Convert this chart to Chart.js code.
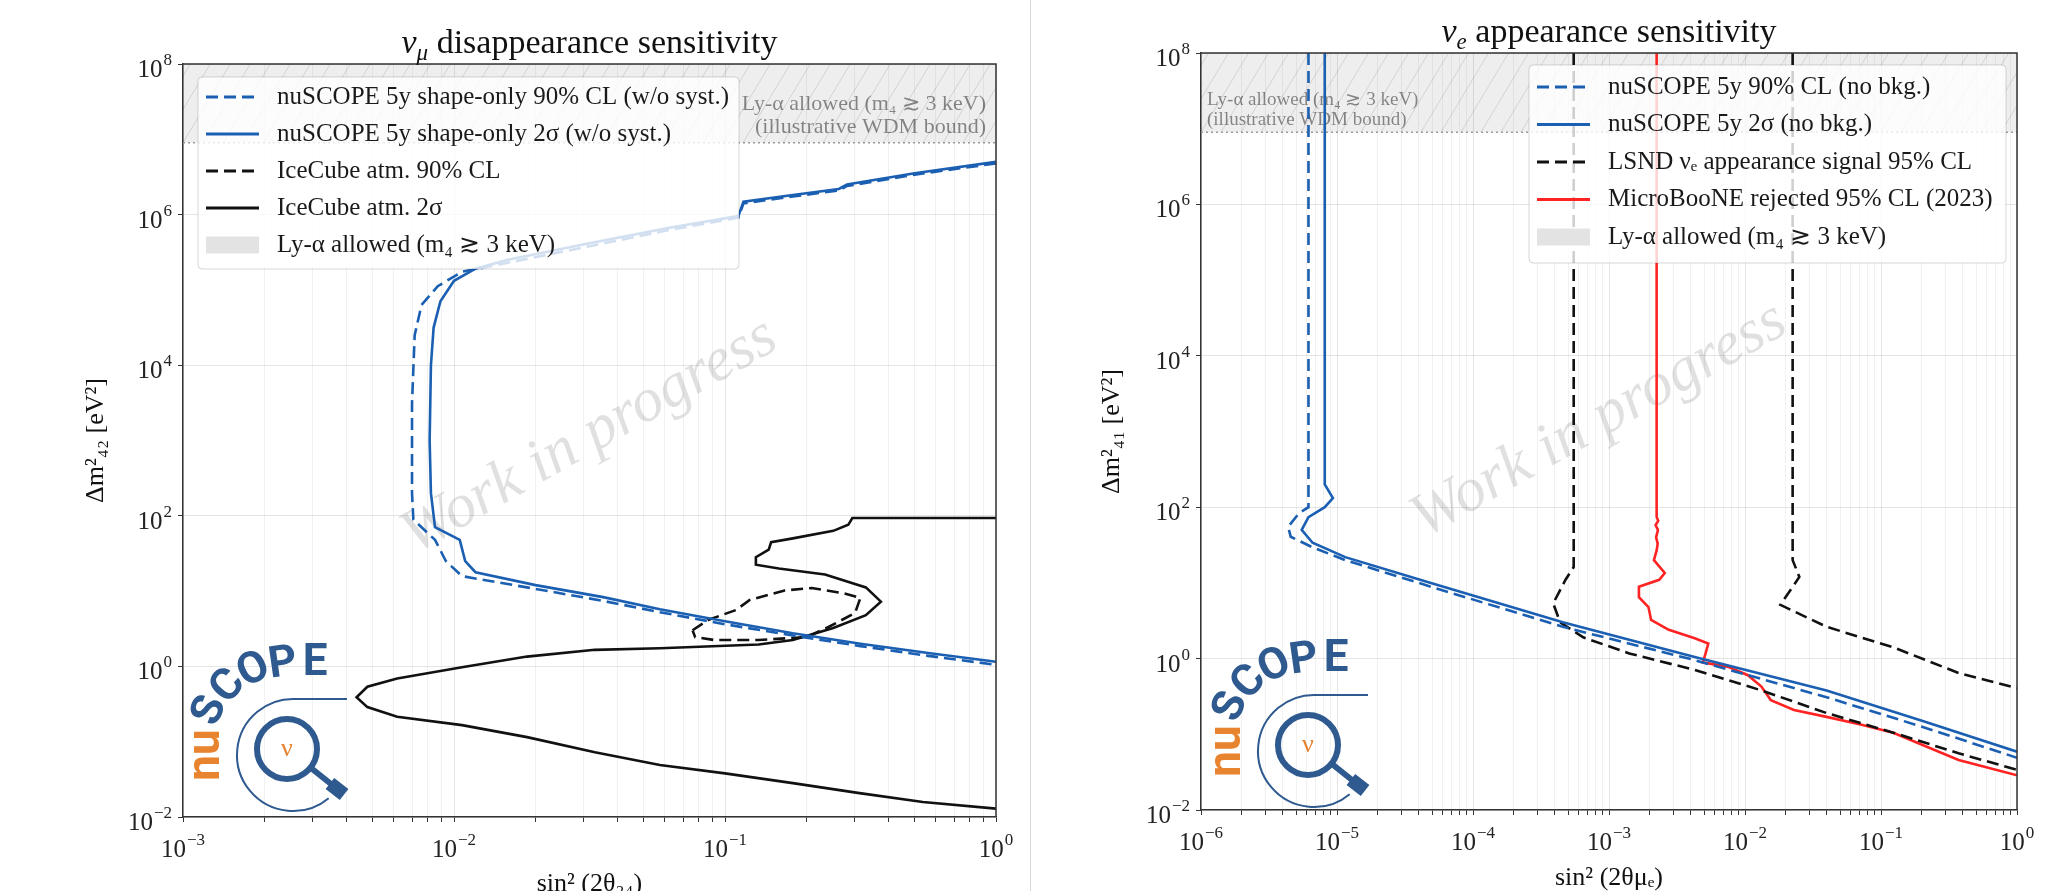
<!DOCTYPE html>
<html>
<head>
<meta charset="utf-8">
<script src="https://cdn.jsdelivr.net/npm/chart.js@4.4.1/dist/chart.umd.min.js"></script>
<style>
html, body { margin: 0; padding: 0; background: #fff; overflow: hidden; }
#wrap { position: relative; width: 2070px; height: 891px; overflow: hidden; background: #fff; }
#wrap canvas { position: absolute; top: 0; }
#left { left: 0; }
#right { left: 1035px; }
#divider { position: absolute; left: 1030px; top: 0; width: 1px; height: 891px; background: #d6d6d6; }
</style>
</head>
<body>
<div id="wrap">
  <canvas id="left" width="1035" height="930"></canvas>
  <canvas id="right" width="1035" height="930"></canvas>
  <div id="divider"></div>
</div>
<script>
const SERIF = '"Liberation Serif", "DejaVu Serif", serif';
const BLUE = '#1b5fb2', BLACK = '#111111', RED = '#ff2323';
const LY_ALPHA_MIN = 9e6; // (3 keV)^2 in eV^2

// tick positions / labels (labels are 10^exp)
const yTickVals = [1e-2, 1, 1e2, 1e4, 1e6, 1e8];
const yTickExps = ['−2', '0', '2', '4', '6', '8'];
const muXDecades = [1e-3, 1e-2, 1e-1, 1];
const muXExps = ['−3', '−2', '−1', '0'];
const eXDecades = [1e-6, 1e-5, 1e-4, 1e-3, 1e-2, 1e-1, 1];
const eXExps = ['−6', '−5', '−4', '−3', '−2', '−1', '0'];

// ---- nu_mu disappearance ----
const muNu2sX = [1.0, 0.501, 0.282, 0.263, 0.178, 0.117, 0.112, 0.0631, 0.0316, 0.0158, 0.0120, 0.0100, 0.00891, 0.00841, 0.00822, 0.00813, 0.00822, 0.00851, 0.0105, 0.0110, 0.0120, 0.0200, 0.0355, 0.0575, 0.100, 0.178, 0.316, 0.562, 1.0];
const muNu2sY = [5.01e6, 3.55e6, 2.51e6, 2.19e6, 1.82e6, 1.48e6, 9.55e5, 6.76e5, 4.17e5, 2.51e5, 1.91e5, 1.32e5, 7.08e4, 3.16e4, 1.0e4, 1.0e3, 200, 70.8, 47.9, 25.1, 17.8, 12.0, 8.32, 5.75, 3.98, 2.75, 2.0, 1.51, 1.15];
const muNu90X = [1.0, 0.501, 0.282, 0.263, 0.178, 0.117, 0.112, 0.0631, 0.0316, 0.0158, 0.0107, 0.00871, 0.00759, 0.00716, 0.00700, 0.00700, 0.00708, 0.00851, 0.00933, 0.0107, 0.0200, 0.0355, 0.0575, 0.100, 0.178, 0.316, 0.562, 1.0];
const muNu90Y = [4.79e6, 3.39e6, 2.40e6, 2.09e6, 1.74e6, 1.41e6, 9.12e5, 6.31e5, 3.80e5, 2.29e5, 1.74e5, 1.12e5, 6.31e4, 2.51e4, 3.16e3, 200, 89.1, 47.9, 25.1, 15.8, 10.7, 7.41, 5.25, 3.63, 2.57, 1.86, 1.38, 1.05];
const ice2sX = [1.0, 0.295, 0.285, 0.251, 0.178, 0.148, 0.145, 0.130, 0.130, 0.158, 0.234, 0.331, 0.376, 0.331, 0.251, 0.178, 0.133, 0.0575, 0.0331, 0.0186, 0.0107, 0.00617, 0.00479, 0.00437, 0.00479, 0.00617, 0.0107, 0.0186, 0.0331, 0.0575, 0.100, 0.178, 0.309, 0.537, 1.0];
const ice2sY = [93.3, 93.3, 75.9, 63.1, 50.1, 44.7, 35.5, 28.2, 22.4, 20.0, 16.6, 11.2, 7.24, 4.79, 3.24, 2.24, 1.95, 1.74, 1.66, 1.35, 0.977, 0.692, 0.537, 0.389, 0.288, 0.214, 0.166, 0.115, 0.0724, 0.0490, 0.0380, 0.0282, 0.0209, 0.0158, 0.0129];
const ice90X = [0.0759, 0.0871, 0.110, 0.123, 0.166, 0.209, 0.275, 0.316, 0.302, 0.240, 0.200, 0.133, 0.0912, 0.0776, 0.0759];
const ice90Y = [3.02, 4.17, 5.62, 7.59, 10.2, 11.0, 9.33, 8.13, 5.13, 3.31, 2.45, 2.24, 2.24, 2.45, 3.02];

// ---- nu_e appearance ----
const eNu90X = [6.17e-6, 6.17e-6, 5.25e-6, 4.37e-6, 4.57e-6, 6.61e-6, 1.15e-5, 4.90e-5, 4.57e-4, 4.27e-3, 0.0398, 0.200, 1.0];
const eNu90Y = [1e8, 100, 83.2, 55.0, 40.7, 29.5, 20.0, 8.91, 2.63, 0.955, 0.309, 0.126, 0.0490];
const eNu2sX = [8.13e-6, 8.13e-6, 9.33e-6, 8.13e-6, 6.17e-6, 5.50e-6, 6.61e-6, 1.15e-5, 4.90e-5, 4.57e-4, 4.27e-3, 0.0398, 0.200, 1.0];
const eNu2sY = [1e8, 200, 132, 100, 74.1, 50.1, 33.9, 21.9, 10.0, 3.02, 1.05, 0.380, 0.151, 0.0589];
const lsndLoX = [5.50e-4, 5.50e-4, 4.79e-4, 3.89e-4, 4.37e-4, 6.46e-4, 1.41e-3, 4.27e-3, 0.0132, 0.0398, 0.123, 0.372, 1.0];
const lsndLoY = [1e8, 16.2, 11.0, 5.37, 3.02, 1.91, 1.17, 0.708, 0.380, 0.191, 0.105, 0.0562, 0.0339];
const lsndHiX = [0.0224, 0.0224, 0.0251, 0.0182, 0.0398, 0.123, 0.372, 1.0];
const lsndHiY = [1e8, 20.0, 12.0, 5.13, 2.63, 1.41, 0.646, 0.407];
const uboonX = [2.24e-3, 2.24e-3, 2.30e-3, 2.20e-3, 2.29e-3, 2.22e-3, 2.28e-3, 2.24e-3, 2.14e-3, 2.57e-3, 2.34e-3, 1.66e-3, 1.66e-3, 1.95e-3, 2.04e-3, 2.75e-3, 4.27e-3, 5.37e-3, 5.13e-3, 4.90e-3, 7.59e-3, 0.0105, 0.0132, 0.0155, 0.0229, 0.0398, 0.0708, 0.123, 0.372, 1.0];
const uboonY = [1e8, 74.1, 66.0, 58.0, 50.0, 40.0, 33.0, 26.9, 20.0, 13.5, 11.0, 8.91, 6.46, 4.79, 3.24, 2.40, 1.86, 1.58, 1.17, 0.891, 0.776, 0.603, 0.427, 0.282, 0.209, 0.170, 0.135, 0.105, 0.0457, 0.0288];

const pts = (xs, ys) => xs.map((x, i) => ({ x: x, y: ys[i] }));

function line(label, xs, ys, color, dash) {
  return { label: label, data: pts(xs, ys), borderColor: color, borderDash: dash || [],
           showLine: true, pointRadius: 0, borderWidth: 2.6, fill: false, tension: 0 };
}
function band(xmin) {
  return { label: 'Ly-α allowed (m₄ ≳ 3 keV)', data: [{ x: xmin, y: LY_ALPHA_MIN }, { x: 1, y: LY_ALPHA_MIN }],
           showLine: true, pointRadius: 0, fill: 'end', backgroundColor: 'rgba(0,0,0,0.065)',
           borderColor: '#9a9a9a', borderWidth: 1.5, borderDash: [2, 3], isBand: true };
}

// "10" with a raised exponent, like matplotlib's mathtext tick labels
function drawPow(ctx, exp, x, yBase, align) {
  ctx.font = '25px ' + SERIF;
  const w1 = ctx.measureText('10').width;
  ctx.font = '17px ' + SERIF;
  const w2 = ctx.measureText(exp).width;
  const x0 = align === 'right' ? x - w1 - w2 - 1 : x - (w1 + w2 + 1) / 2;
  ctx.font = '25px ' + SERIF;
  ctx.fillText('10', x0, yBase);
  ctx.font = '17px ' + SERIF;
  ctx.fillText(exp, x0 + w1 + 1, yBase - 12);
}

function drawLogo(ctx, cx, cy) {
  const blue = '#2f5a8f', orange = '#e8832f';
  ctx.save();
  ctx.strokeStyle = blue;
  ctx.lineWidth = 2;
  ctx.beginPath();
  ctx.arc(cx + 6, cy + 6, 56, 0.28 * Math.PI, 1.5 * Math.PI);
  ctx.lineTo(cx + 60, cy - 50);
  ctx.stroke();
  ctx.lineWidth = 6;
  ctx.beginPath();
  ctx.arc(cx, cy, 30, 0, 2 * Math.PI);
  ctx.stroke();
  ctx.beginPath();
  ctx.moveTo(cx + 24, cy + 19);
  ctx.lineTo(cx + 44, cy + 35);
  ctx.stroke();
  ctx.save();
  ctx.translate(cx + 50, cy + 40);
  ctx.rotate(38 * Math.PI / 180);
  ctx.fillStyle = blue;
  ctx.fillRect(-9, -7, 18, 14);
  ctx.restore();
  ctx.fillStyle = orange;
  ctx.font = '26px ' + SERIF;
  ctx.textAlign = 'center';
  ctx.textBaseline = 'middle';
  ctx.fillText('ν', cx, cy);
  ctx.save();
  ctx.translate(cx - 80, cy + 6);
  ctx.rotate(-Math.PI / 2);
  ctx.font = 'bold 46px Roboto, "DejaVu Sans", sans-serif';
  ctx.fillText('nu', 0, 0);
  ctx.restore();
  const letters = [['S', -76, -38, -68], ['C', -58, -62, -48], ['O', -33, -78, -26], ['P', -4, -84, -8], ['E', 28, -85, 0]];
  ctx.fillStyle = blue;
  ctx.font = 'bold 44px Roboto, "DejaVu Sans", sans-serif';
  letters.forEach(l => {
    ctx.save();
    ctx.translate(cx + l[1], cy + l[2]);
    ctx.rotate(l[3] * Math.PI / 180);
    ctx.fillText(l[0], 0, 0);
    ctx.restore();
  });
  ctx.restore();
}

const decor = {
  id: 'decor',
  beforeDatasetsDraw(chart, args, o) {
    const ctx = chart.ctx, a = chart.chartArea;
    const yb = chart.scales.y.getPixelForValue(LY_ALPHA_MIN);
    // hatch inside Ly-alpha band
    ctx.save();
    ctx.beginPath();
    ctx.rect(a.left, a.top, a.right - a.left, yb - a.top);
    ctx.clip();
    ctx.strokeStyle = 'rgba(0,0,0,0.12)';
    ctx.lineWidth = 1;
    ctx.beginPath();
    for (let x = a.left - 120; x < a.right + 20; x += 20) {
      ctx.moveTo(x, yb);
      ctx.lineTo(x + (yb - a.top) * 0.6, a.top);
    }
    ctx.stroke();
    ctx.restore();
    // band annotation
    ctx.save();
    ctx.fillStyle = 'rgba(0,0,0,0.45)';
    ctx.font = o.bandFont + ' ' + SERIF;
    ctx.textAlign = o.bandAlign;
    ctx.textBaseline = 'alphabetic';
    const bx = o.bandAlign === 'right' ? a.right - 10 : a.left + 6;
    o.bandText.forEach((t, i) => ctx.fillText(t, bx, a.top + o.bandY[i]));
    ctx.restore();
    // watermark
    ctx.save();
    ctx.translate((a.left + a.right) / 2 + o.wm[0], (a.top + a.bottom) / 2 + o.wm[1]);
    ctx.rotate(-29.5 * Math.PI / 180);
    ctx.font = 'italic 62px ' + SERIF;
    ctx.fillStyle = 'rgba(0,0,0,0.12)';
    ctx.textAlign = 'center';
    ctx.textBaseline = 'middle';
    ctx.fillText('Work in progress', 0, 0);
    ctx.restore();
  },
  afterDatasetsDraw(chart, args, o) {
    const ctx = chart.ctx, a = chart.chartArea;
    // top and right spines
    ctx.save();
    ctx.strokeStyle = '#333';
    ctx.lineWidth = 1.5;
    ctx.beginPath();
    ctx.moveTo(a.left, a.top);
    ctx.lineTo(a.right, a.top);
    ctx.lineTo(a.right, a.bottom);
    ctx.stroke();
    ctx.restore();
    drawLogo(ctx, o.logo[0], o.logo[1]);
    // legend box
    const lg = o.legend;
    ctx.save();
    ctx.fillStyle = 'rgba(255,255,255,0.8)';
    ctx.strokeStyle = 'rgba(0,0,0,0.16)';
    ctx.lineWidth = 1;
    ctx.beginPath();
    ctx.roundRect(lg.x, lg.y, lg.w, lg.h, 4);
    ctx.fill();
    ctx.stroke();
    let row = 0;
    chart.data.datasets.forEach(ds => {
      if (!ds.label) return;
      const y = lg.y0 + row * lg.dy;
      row++;
      if (ds.isBand) {
        ctx.fillStyle = '#e3e3e3';
        ctx.fillRect(lg.sx, y - 8.5, 53, 17);
      } else {
        ctx.strokeStyle = ds.borderColor;
        ctx.lineWidth = 3;
        ctx.setLineDash(ds.borderDash);
        ctx.beginPath();
        ctx.moveTo(lg.sx, y);
        ctx.lineTo(lg.sx + 53, y);
        ctx.stroke();
        ctx.setLineDash([]);
      }
      ctx.fillStyle = '#1a1a1a';
      ctx.font = '25px ' + SERIF;
      ctx.textAlign = 'left';
      ctx.textBaseline = 'middle';
      ctx.fillText(ds.label, lg.tx, y);
    });
    ctx.restore();
  },
  afterDraw(chart, args, o) {
    const ctx = chart.ctx, a = chart.chartArea;
    // tick labels, placed with the scales
    ctx.save();
    ctx.fillStyle = '#222';
    ctx.textAlign = 'left';
    ctx.textBaseline = 'alphabetic';
    o.xDecades.forEach((v, i) => drawPow(ctx, o.xExps[i], chart.scales.x.getPixelForValue(v), a.bottom + 40, 'center'));
    yTickVals.forEach((v, i) => drawPow(ctx, yTickExps[i], a.left - 11, chart.scales.y.getPixelForValue(v) + 13, 'right'));
    ctx.restore();
    // panel title
    const t = o.title;
    ctx.save();
    ctx.fillStyle = '#111';
    ctx.textBaseline = 'alphabetic';
    ctx.textAlign = 'left';
    ctx.font = 'italic 34px ' + SERIF;
    const w1 = ctx.measureText(t[0]).width;
    ctx.font = 'italic 23px ' + SERIF;
    const w2 = ctx.measureText(t[1]).width;
    ctx.font = '34px ' + SERIF;
    const w3 = ctx.measureText(t[2]).width;
    let x = (a.left + a.right) / 2 - (w1 + w2 + w3) / 2;
    const y = a.top - 11;
    ctx.font = 'italic 34px ' + SERIF;
    ctx.fillText(t[0], x, y);
    x += w1;
    ctx.font = 'italic 23px ' + SERIF;
    ctx.fillText(t[1], x, y + 7);
    x += w2;
    ctx.font = '34px ' + SERIF;
    ctx.fillText(t[2], x, y);
    ctx.restore();
  }
};

function logTicks(decades) {
  const t = [];
  decades.forEach((d, i) => {
    t.push({ value: d, major: true });
    if (i < decades.length - 1) for (let m = 2; m <= 9; m++) t.push({ value: m * d, major: false });
  });
  return t;
}

function panel(id, p) {
  const tickFont = { family: SERIF, size: 24 };
  return new Chart(document.getElementById(id), {
    type: 'scatter',
    data: { datasets: p.datasets },
    options: {
      responsive: false,
      animation: false,
      devicePixelRatio: 1,
      events: [],
      layout: { padding: { top: p.top, right: 1035 - p.right, left: 0, bottom: 0 } },
      plugins: { legend: { display: false }, tooltip: { enabled: false }, decor: p.decor },
      scales: {
        x: {
          type: 'logarithmic', min: p.decor.xDecades[0], max: 1,
          afterBuildTicks: s => { s.ticks = logTicks(p.decor.xDecades); },
          afterFit: s => { s.height = 930 - p.bottom; },
          ticks: { autoSkip: false, maxRotation: 0, minRotation: 0, padding: 9, font: tickFont, callback: () => '' },
          grid: {
            color: c => (c.tick && c.tick.major ? 'rgba(0,0,0,0.10)' : 'rgba(0,0,0,0.055)'),
            tickColor: '#333', tickLength: 5, lineWidth: 1
          },
          border: { color: '#333', width: 1.5 },
          title: { display: true, text: p.xTitle, color: '#111', font: { family: SERIF, size: 26 }, padding: { top: 0, bottom: p.xTitlePad } }
        },
        y: {
          type: 'logarithmic', min: 1e-2, max: 1e8,
          afterBuildTicks: s => { s.ticks = yTickVals.map(v => ({ value: v, major: true })); },
          afterFit: s => { s.width = p.left; },
          ticks: { autoSkip: false, padding: 6, font: tickFont, callback: () => '' },
          grid: { color: 'rgba(0,0,0,0.10)', tickColor: '#333', tickLength: 5, lineWidth: 1 },
          border: { color: '#333', width: 1.5 },
          title: { display: true, text: p.yTitle, color: '#111', font: { family: SERIF, size: 26 }, padding: { top: p.yTitlePad, bottom: 0 } }
        }
      }
    },
    plugins: [decor]
  });
}

panel('left', {
  left: 183, right: 996, top: 64, bottom: 817,
  xTitle: 'sin² (2θ₂₄)', xTitlePad: 30, yTitle: 'Δm²₄₂ [eV²]', yTitlePad: 81,
  datasets: [
    line('nuSCOPE 5y shape-only 90% CL (w/o syst.)', muNu90X, muNu90Y, BLUE, [12, 6]),
    line('nuSCOPE 5y shape-only 2σ (w/o syst.)', muNu2sX, muNu2sY, BLUE),
    line('IceCube atm. 90% CL', ice90X, ice90Y, BLACK, [12, 6]),
    line('IceCube atm. 2σ', ice2sX, ice2sY, BLACK),
    band(1e-3)
  ],
  decor: {
    xDecades: muXDecades, xExps: muXExps,
    title: ['ν', 'μ', ' disappearance sensitivity'],
    bandText: ['Ly-α allowed (m₄ ≳ 3 keV)', '(illustrative WDM bound)'],
    bandFont: '22px', bandAlign: 'right', bandY: [46, 69],
    wm: [0, -4],
    logo: [287, 749],
    legend: { x: 198, y: 77, w: 541, h: 192, y0: 97, dy: 37, sx: 206, tx: 277 }
  }
});

panel('right', {
  left: 166, right: 982, top: 53, bottom: 810,
  xTitle: 'sin² (2θμₑ)', xTitlePad: 36, yTitle: 'Δm²₄₁ [eV²]', yTitlePad: 62,
  datasets: [
    line('nuSCOPE 5y 90% CL (no bkg.)', eNu90X, eNu90Y, BLUE, [12, 6]),
    line('nuSCOPE 5y 2σ (no bkg.)', eNu2sX, eNu2sY, BLUE),
    line('LSND νₑ appearance signal 95% CL', lsndLoX, lsndLoY, BLACK, [12, 6]),
    line('', lsndHiX, lsndHiY, BLACK, [12, 6]),
    line('MicroBooNE rejected 95% CL (2023)', uboonX, uboonY, RED),
    band(1e-6)
  ],
  decor: {
    xDecades: eXDecades, xExps: eXExps,
    title: ['ν', 'e', ' appearance sensitivity'],
    bandText: ['Ly-α allowed (m₄ ≳ 3 keV)', '(illustrative WDM bound)'],
    bandFont: '19px', bandAlign: 'left', bandY: [52, 72],
    wm: [-10, -11],
    logo: [273, 745],
    legend: { x: 494, y: 65, w: 477, h: 198, y0: 87, dy: 37.5, sx: 502, tx: 573 }
  }
});
</script>
</body>
</html>
